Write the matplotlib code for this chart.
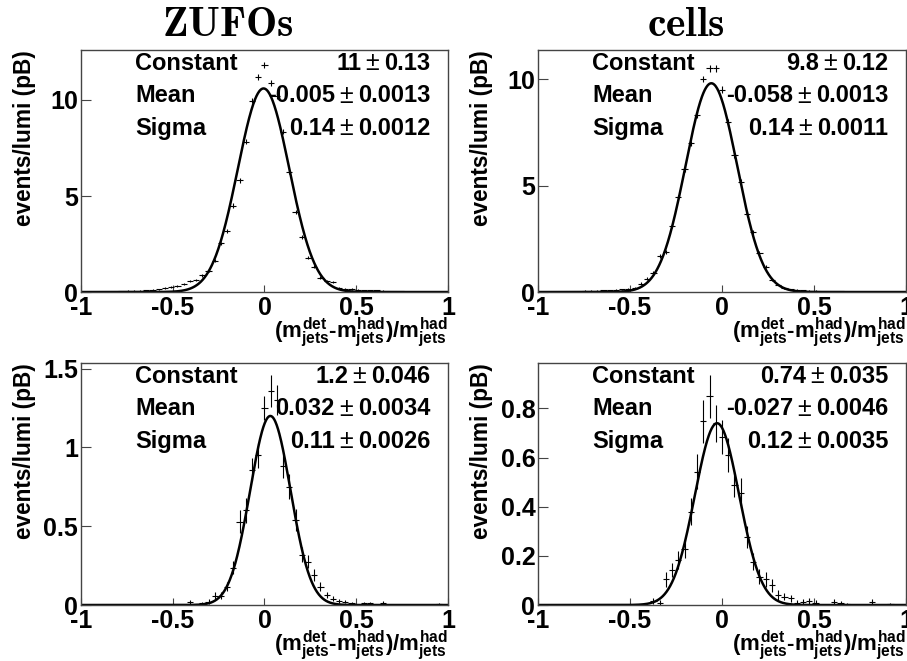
import numpy as np
import matplotlib
matplotlib.use('Agg')
import matplotlib.pyplot as plt

plt.rcParams['font.family'] = 'Liberation Sans'
plt.rcParams['font.weight'] = 'bold'
plt.rcParams['mathtext.fontset'] = 'custom'
plt.rcParams['mathtext.rm'] = 'Liberation Sans:bold'
plt.rcParams['mathtext.it'] = 'Liberation Sans:bold'
plt.rcParams['mathtext.bf'] = 'Liberation Sans:bold'

# 59 bins between -1 and 1, values listed from the leftmost bin
bin_edges = np.linspace(-1, 1, 60)

zufos_top = [0, 0, 0, 0.01, 0.01, 0.02, 0.04, 0.05, 0.06, 0.07,
             0.09, 0.13, 0.14, 0.2, 0.27, 0.33, 0.40, 0.57, 0.63, 0.88,
             1.11, 1.63, 2.53, 3.18, 4.5, 5.83, 7.83, 9.97, 11.2, 11.8,
             10.9, 10.2, 8.35, 6.27, 4.18, 2.88, 1.79, 1.32, 0.75, 0.6,
             0.5, 0.22, 0.18, 0.15, 0.12, 0.1, 0.09, 0.08, 0.06, 0.05,
             0.04, 0.03, 0.02, 0.02, 0.01, 0.01, 0, 0, 0]
zufos_top_err = [0, 0, 0, 0.01, 0.01, 0.02, 0.02, 0.03, 0.03, 0.03,
                 0.03, 0.04, 0.04, 0.04, 0.05, 0.05, 0.06, 0.07, 0.07, 0.08,
                 0.08, 0.09, 0.1, 0.11, 0.12, 0.13, 0.14, 0.15, 0.15, 0.16,
                 0.15, 0.15, 0.14, 0.12, 0.11, 0.1, 0.08, 0.07, 0.06, 0.05,
                 0.05, 0.04, 0.04, 0.04, 0.03, 0.03, 0.03, 0.03, 0.02, 0.02,
                 0.02, 0.02, 0.01, 0.01, 0.01, 0.01, 0, 0, 0]

cells_top = [0, 0, 0, 0, 0, 0.01, 0.02, 0.05, 0.06, 0.07,
             0.08, 0.08, 0.1, 0.12, 0.14, 0.2, 0.39, 0.63, 0.91, 1.68,
             1.88, 3.1, 4.44, 5.77, 6.98, 8.3, 10.0, 10.5, 10.5, 9.5,
             8.0, 6.43, 5.17, 3.64, 2.82, 1.83, 1.18, 0.55, 0.35, 0.2,
             0.12, 0.09, 0.08, 0.07, 0.06, 0.05, 0.04, 0.04, 0.03, 0.02,
             0.02, 0.01, 0.01, 0, 0, 0, 0, 0, 0]
cells_top_err = [0, 0, 0, 0, 0, 0.01, 0.02, 0.03, 0.03, 0.03,
                 0.03, 0.03, 0.04, 0.04, 0.04, 0.05, 0.07, 0.07, 0.08, 0.09,
                 0.09, 0.1, 0.12, 0.12, 0.13, 0.13, 0.15, 0.15, 0.15, 0.15,
                 0.13, 0.12, 0.12, 0.1, 0.09, 0.08, 0.07, 0.05, 0.04, 0.04,
                 0.03, 0.03, 0.03, 0.03, 0.03, 0.02, 0.02, 0.02, 0.02, 0.02,
                 0.02, 0.01, 0.01, 0, 0, 0, 0, 0, 0]

zufos_bot = [0, 0, 0, 0, 0, 0, 0, 0, 0, 0,
             0, 0, 0, 0, 0, 0, 0, 0.017, 0, 0.012,
             0.02, 0.06, 0.06, 0.117, 0.237, 0.53, 0.60, 0.86, 0.95, 1.25,
             1.36, 1.3, 0.88, 0.75, 0.54, 0.32, 0.275, 0.19, 0.117, 0.064,
             0.04, 0.027, 0.021, 0.01, 0, 0.01, 0.01, 0, 0.015, 0,
             0, 0, 0, 0, 0, 0, 0, 0.005, 0]
zufos_bot_err = [0, 0, 0, 0, 0, 0, 0, 0, 0, 0,
                 0, 0, 0, 0, 0, 0, 0, 0.012, 0, 0.01,
                 0.015, 0.02, 0.02, 0.03, 0.04, 0.075, 0.08, 0.07, 0.08, 0.075,
                 0.1, 0.095, 0.075, 0.08, 0.07, 0.05, 0.04, 0.04, 0.03, 0.02,
                 0.015, 0.012, 0.01, 0.01, 0, 0.01, 0.01, 0, 0.01, 0,
                 0, 0, 0, 0, 0, 0, 0, 0.005, 0]

cells_bot = [0, 0, 0, 0, 0, 0, 0, 0, 0, 0,
             0, 0, 0, 0, 0, 0, 0, 0, 0.015, 0.01,
             0.105, 0.143, 0.183, 0.23, 0.38, 0.543, 0.747, 0.85, 0.74, 0.683,
             0.611, 0.49, 0.455, 0.278, 0.176, 0.115, 0.105, 0.08, 0.04, 0.034,
             0.027, 0.01, 0.013, 0.018, 0.01, 0, 0, 0.013, 0.008, 0.005,
             0, 0, 0, 0.013, 0, 0, 0.005, 0, 0]
cells_bot_err = [0, 0, 0, 0, 0, 0, 0, 0, 0, 0,
                 0, 0, 0, 0, 0, 0, 0, 0, 0.012, 0.01,
                 0.03, 0.03, 0.035, 0.04, 0.055, 0.07, 0.088, 0.088, 0.075, 0.07,
                 0.07, 0.05, 0.06, 0.045, 0.035, 0.03, 0.03, 0.025, 0.02, 0.015,
                 0.015, 0.01, 0.01, 0.012, 0.01, 0, 0, 0.01, 0.008, 0.005,
                 0, 0, 0, 0.013, 0, 0, 0.005, 0, 0]

# gaussian fit results: constant, mean, sigma
fit_zufos_top = (10.6, -0.005, 0.14)
fit_cells_top = (9.8, -0.058, 0.14)
fit_zufos_bot = (1.2, 0.032, 0.11)
fit_cells_bot = (0.74, -0.027, 0.12)

stat_zufos_top = [('11', '0.13'), ('-0.005', '0.0013'), ('0.14', '0.0012')]
stat_cells_top = [('9.8', '0.12'), ('-0.058', '0.0013'), ('0.14', '0.0011')]
stat_zufos_bot = [('1.2', '0.046'), ('0.032', '0.0034'), ('0.11', '0.0026')]
stat_cells_bot = [('0.74', '0.035'), ('-0.027', '0.0046'), ('0.12', '0.0035')]
stat_names = ['Constant', 'Mean', 'Sigma']

xticks = [-1, -0.5, 0, 0.5, 1]
xticklabels = ['-1', '-0.5', '0', '0.5', '1']
titles = ['ZUFOs', 'cells']
xlabel = r'$(m^{det}_{jets}$-$m^{had}_{jets})/m^{had}_{jets}$'
ylabel = 'events/lumi (pB)'

centers = 0.5 * (bin_edges[1:] + bin_edges[:-1])
half = 0.5 * (bin_edges[1] - bin_edges[0])
row_y = [0.945, 0.811, 0.677]


def draw_panel(ax, vals, errs, fit, ymax, yticks, yticklabels):
    vals = np.array(vals)
    errs = np.array(errs)
    m = vals > 0
    ax.errorbar(centers[m], vals[m], xerr=half, yerr=errs[m], fmt='none',
                ecolor='black', elinewidth=0.8, capsize=0)
    c, mu, s = fit
    xf = np.linspace(-1, 1, 800)
    ax.plot(xf, c * np.exp(-0.5 * ((xf - mu) / s) ** 2), color='black', lw=1.8)
    ax.set_xlim(-1, 1)
    ax.set_ylim(0, ymax)
    ax.set_xticks(xticks)
    ax.set_xticklabels(xticklabels)
    ax.set_yticks(yticks)
    ax.set_yticklabels(yticklabels)
    ax.tick_params(axis='x', direction='in', length=5, width=0.8, pad=3,
                   labelsize=18, color='#444')
    ax.tick_params(axis='y', direction='in', length=7.5, width=0.8, pad=2,
                   labelsize=18, color='#444')
    for sp in ax.spines.values():
        sp.set_color('#444')
        sp.set_linewidth(1.0)
    for name, yy in zip(stat_names, row_y):
        ax.text(0.147, yy, name, transform=ax.transAxes, fontsize=17,
                fontweight='bold', ha='left', va='center')
    ax.text(-0.153, 1.0, ylabel, transform=ax.transAxes, rotation=90,
            fontsize=16.3, fontweight='bold', ha='center', va='top')
    ax.text(1.0, -0.095, xlabel, transform=ax.transAxes, fontsize=16,
            fontweight='bold', ha='right', va='top')


def stat_values(ax, stats):
    # error right-aligned, then a light plus-minus sign, then the value
    r = fig.canvas.get_renderer()
    inv = ax.transAxes.inverted()
    for (val, err), yy in zip(stats, row_y):
        et = ax.text(0.952, yy, err, transform=ax.transAxes, fontsize=17,
                     fontweight='bold', ha='right', va='center')
        x_err = inv.transform(et.get_window_extent(r).p0)[0]
        pm = ax.text(x_err - 0.014, yy, '\u00b1', transform=ax.transAxes,
                     fontsize=18, fontweight='normal', ha='right', va='center')
        x_pm = inv.transform(pm.get_window_extent(r).p0)[0]
        ax.text(x_pm - 0.012, yy, val, transform=ax.transAxes, fontsize=17,
                fontweight='bold', ha='right', va='center')


fig = plt.figure(figsize=(9.07, 6.61), dpi=100)
w = 0.4046
h = 0.3661
ax_tl = fig.add_axes([0.0893, 0.5582, w, h])
ax_tr = fig.add_axes([0.5932, 0.5582, 0.4057, h])
ax_bl = fig.add_axes([0.0893, 0.0847, w, h])
ax_br = fig.add_axes([0.5932, 0.0847, 0.4057, h])

draw_panel(ax_tl, zufos_top, zufos_top_err, fit_zufos_top,
           12.6, [0, 5, 10], ['0', '5', '10'])
draw_panel(ax_tr, cells_top, cells_top_err, fit_cells_top,
           11.36, [0, 5, 10], ['0', '5', '10'])
draw_panel(ax_bl, zufos_bot, zufos_bot_err, fit_zufos_bot,
           1.536, [0, 0.5, 1, 1.5], ['0', '0.5', '1', '1.5'])
draw_panel(ax_br, cells_bot, cells_bot_err, fit_cells_bot,
           0.985, [0, 0.2, 0.4, 0.6, 0.8], ['0', '0.2', '0.4', '0.6', '0.8'])

fig.canvas.draw()
for ax, st in [(ax_tl, stat_zufos_top), (ax_tr, stat_cells_top),
               (ax_bl, stat_zufos_bot), (ax_br, stat_cells_bot)]:
    stat_values(ax, st)

fig.text(0.2514, 0.962, r'$\mathbf{%s}$' % titles[0], fontsize=30,
         ha='center', va='center', math_fontfamily='cm')
fig.text(0.7563, 0.962, r'$\mathbf{%s}$' % titles[1], fontsize=30,
         ha='center', va='center', math_fontfamily='cm')

fig.savefig('out.png', dpi=100)
